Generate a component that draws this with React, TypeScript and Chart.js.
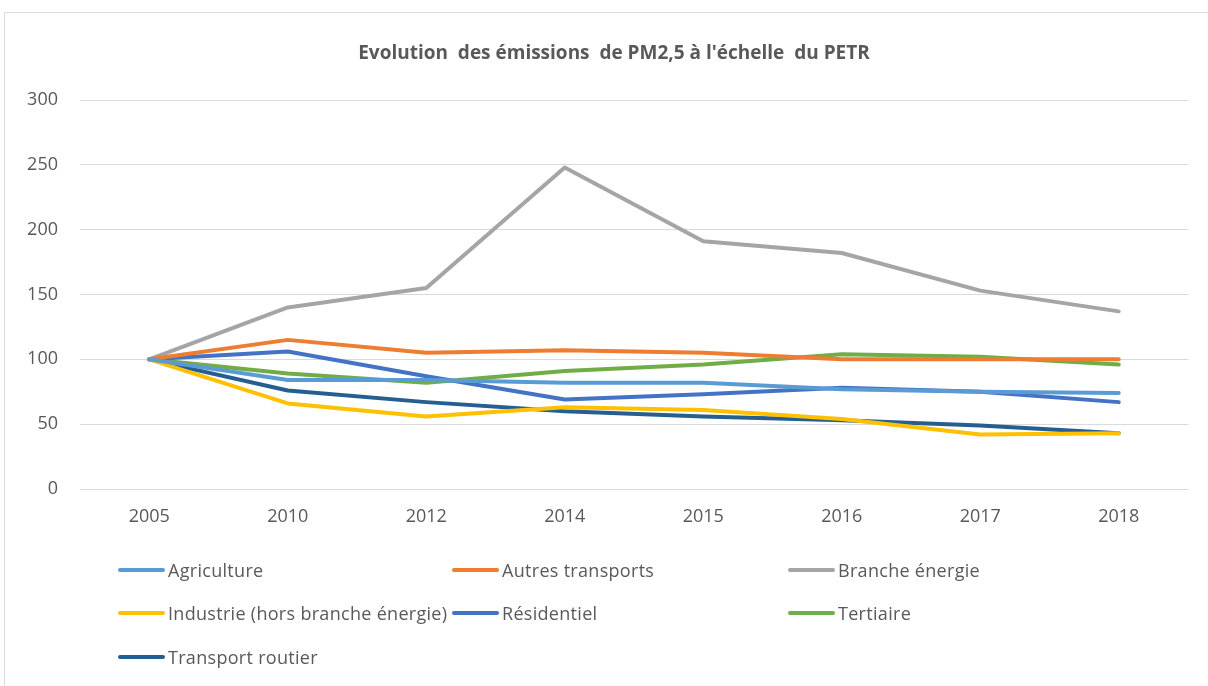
import React, { useEffect, useRef } from "react";
import { Chart, registerables } from "chart.js";

Chart.register(...registerables);

const TITLE = "Evolution  des émissions  de PM2,5 à l'échelle  du PETR";
const years = ["2005", "2010", "2012", "2014", "2015", "2016", "2017", "2018"];
const seriesNames = [
  "Agriculture",
  "Autres transports",
  "Branche énergie",
  "Industrie (hors branche énergie)",
  "Résidentiel",
  "Tertiaire",
  "Transport routier",
];
const seriesColors = ["#5B9BD5", "#ED7D31", "#A5A5A5", "#FFC000", "#4472C4", "#70AD47", "#255E91"];
const agriculture = [100, 84, 84, 82, 82, 77, 75, 74];
const autresTransports = [100, 115, 105, 107, 105, 100, 100, 100];
const brancheEnergie = [100, 140, 155, 248, 191, 182, 153, 137];
const industrie = [100, 66, 56, 63, 61, 54, 42, 43];
const residentiel = [100, 106, 87, 69, 73, 78, 75, 67];
const tertiaire = [100, 89, 82, 91, 96, 104, 102, 96];
const transportRoutier = [100, 76, 67, 60, 56, 53, 49, 43];
const seriesValues = [agriculture, autresTransports, brancheEnergie, industrie, residentiel, tertiaire, transportRoutier];

const FONT = "'Open Sans', 'Liberation Sans', sans-serif";
const TEXT = "#595959";

export default function App() {
  const ref = useRef<HTMLCanvasElement | null>(null);
  useEffect(() => {
    document.body.style.margin = "0";
    const chart = new Chart(ref.current!, {
      type: "line",
      data: {
        labels: years,
        datasets: seriesNames.map((n, i) => ({
          label: n,
          data: seriesValues[i],
          borderColor: seriesColors[i],
          backgroundColor: seriesColors[i],
          borderWidth: 4,
          pointRadius: 0,
          tension: 0,
          borderCapStyle: "round" as const,
          borderJoinStyle: "round" as const,
        })),
      },
      options: {
        animation: false,
        responsive: false,
        maintainAspectRatio: false,
        layout: { padding: { top: 100, right: 20, left: 0, bottom: 0 } },
        plugins: { legend: { display: false }, title: { display: false }, tooltip: { enabled: false } },
        scales: {
          x: {
            offset: true,
            grid: { display: false, drawTicks: false, offset: true },
            border: { display: false },
            ticks: { color: TEXT, font: { family: FONT, size: 18 }, padding: 17, maxRotation: 0 },
            afterFit: (s: any) => {
              s.height = 197;
            },
          },
          y: {
            min: 0,
            max: 300,
            ticks: { stepSize: 50, color: TEXT, font: { family: FONT, size: 18 }, padding: 22 },
            grid: { color: "#D9D9D9", lineWidth: 1, drawTicks: false },
            border: { display: false },
            afterFit: (s: any) => {
              s.width = 80;
            },
          },
        },
      },
    });
    return () => chart.destroy();
  }, []);

  const cols = [118, 452, 788];
  const rows = [570, 613, 657];

  return (
    <div style={{ position: "relative", width: 1208, height: 686, overflow: "hidden", background: "#fff" }}>
      <div
        style={{
          position: "absolute",
          left: 4,
          top: 12,
          width: 1220,
          height: 700,
          border: "1.5px solid #D9D9D9",
          boxSizing: "border-box",
        }}
      />
      <canvas ref={ref} width={1208} height={686} style={{ position: "absolute", left: 0, top: 0 }} />
      <div
        style={{
          position: "absolute",
          left: 0,
          width: 1228,
          top: 39,
          textAlign: "center",
          fontFamily: FONT,
          fontWeight: 700,
          fontSize: 19,
          color: TEXT,
          whiteSpace: "pre",
        }}
      >
        {TITLE}
      </div>
      {seriesNames.map((n, i) => {
        const c = cols[i % 3];
        const r = rows[Math.floor(i / 3)];
        return (
          <div
            key={n}
            style={{
              position: "absolute",
              left: c,
              top: r - 12,
              height: 24,
              display: "flex",
              alignItems: "center",
              fontFamily: FONT,
              fontSize: 18,
              letterSpacing: "0.3px",
              color: TEXT,
              whiteSpace: "nowrap",
            }}
          >
            <span
              style={{
                display: "inline-block",
                width: 47,
                height: 4,
                borderRadius: 2,
                background: seriesColors[i],
                marginRight: 3,
              }}
            />
            {n}
          </div>
        );
      })}
    </div>
  );
}
